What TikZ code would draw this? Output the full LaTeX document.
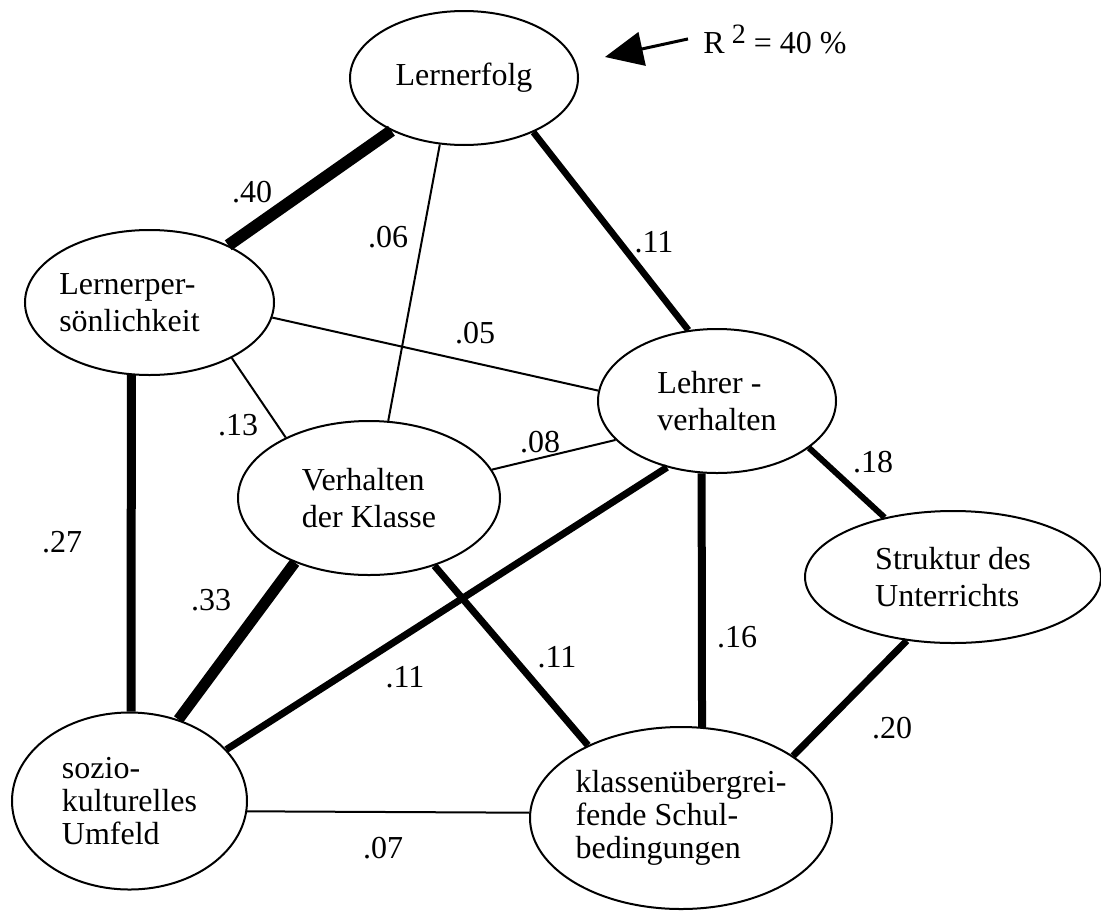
\documentclass[tikz,border=0pt]{standalone}
\usepackage{fontspec}
\setmainfont{Liberation Serif}
\usetikzlibrary{shapes.geometric, arrows.meta}
\tikzset{>={Triangle[length=19pt,width=17pt]}}
\tikzset{
    var/.style={ellipse, draw, line width=1pt, inner sep=0pt, align=left,
        font=\fontsize{16pt}{18.5pt}\selectfont},
    var3/.style={var, font=\fontsize{16pt}{16.5pt}\selectfont},
    coef/.style={inner sep=0pt, font=\fontsize{16pt}{18pt}\selectfont},
    link/.style={line width=#1},
    link/.default=1pt
}

\begin{document}
\begin{tikzpicture}[x=0.5pt, y=-0.5pt]
    \useasboundingbox (0,0) rectangle (1101,910);
    % Variablen
    \node[var, minimum width=114pt, minimum height=67pt] (erfolg) at (464,78) {Lernerfolg};
    \node[var, minimum width=124.5pt, minimum height=72.5pt] (pers) at (149.5,302.5) {\hspace*{-20pt}Lernerper-\\\hspace*{-20pt}sönlichkeit};
    \node[var, minimum width=131pt, minimum height=77pt] (klasse) at (369,498) {Verhalten\\der Klasse};
    \node[var, minimum width=119pt, minimum height=72pt] (lehrer) at (717,401) {Lehrer -\\verhalten};
    \node[var, minimum width=148pt, minimum height=66pt] (struktur) at (953,577) {Struktur des\\Unterrichts};
    \node[var3, minimum width=117.5pt, minimum height=88.5pt] (umfeld) at (129.5,801) {sozio-\\kulturelles\\Umfeld};
    \node[var3, minimum width=151pt, minimum height=91pt] (schule) at (681,818) {klassenübergrei-\\fende Schul-\\bedingungen};

    % Pfade
    \draw[link=6pt] (erfolg.216) -- (pers.36);
    \draw[link] (erfolg.250) -- (klasse.76);
    \draw[link=3.3pt] (erfolg.322) -- (lehrer.112);
    \draw[link] (pers.353) -- (lehrer.175);
    \draw[link] (pers.326) -- (klasse.144);
    \draw[link=4.5pt] (pers.256) -- (umfeld.89);
    \draw[link] (klasse.13) -- (lehrer.201);
    \draw[link=5.5pt] (klasse.221) -- (umfeld.59);
    \draw[link=3.5pt] (klasse.314) -- (schule.142);
    \draw[link=3.5pt] (lehrer.233) -- (umfeld.28);
    \draw[link=4pt] (lehrer.258) -- (schule.77);
    \draw[link=3pt] (lehrer.333) -- (struktur.139);
    \draw[link=3.5pt] (struktur.234) -- (schule.29);
    \draw[link] (umfeld.355) -- (schule.178);

    % Koeffizienten
    \node[coef] (k40) at (252,192) {.40};
    \node[coef] (k06) at (388,237) {.06};
    \node[coef] (k11a) at (654,242) {.11};
    \node[coef] (k05) at (475,333) {.05};
    \node[coef] (k13) at (238,425) {.13};
    \node[coef] (k08) at (540,442) {.08};
    \node[coef] (k18) at (873,462) {.18};
    \node[coef] (k27) at (62,542) {.27};
    \node[coef] (k33) at (211,600) {.33};
    \node[coef] (k11b) at (405,677) {.11};
    \node[coef] (k11c) at (557,657) {.11};
    \node[coef] (k16) at (737,637) {.16};
    \node[coef] (k20) at (892,728) {.20};
    \node[coef] (k07) at (383,848) {.07};

    % R^2
    \node[coef, anchor=base west] (rsq) at (703,53) {R\hspace{3.5pt}\raisebox{5pt}{\fontsize{14pt}{14pt}\selectfont 2} = 40 \%};
    \coordinate (rtip) at (605,57);
    \draw[->, line width=1.5pt] ([xshift=-7.5pt]rsq.west) -- (rtip);
\end{tikzpicture}
\end{document}
